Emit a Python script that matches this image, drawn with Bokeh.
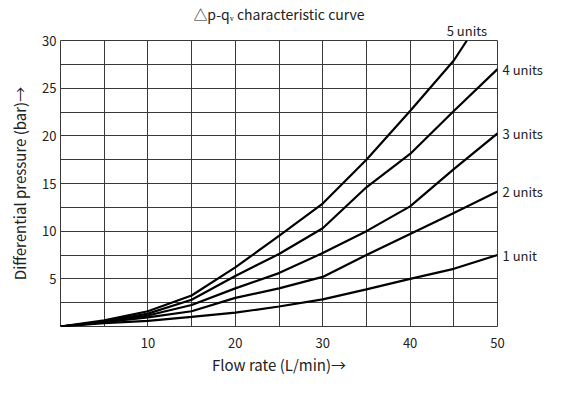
from bokeh.plotting import figure
from bokeh.models import Range1d, FixedTicker, LinearAxis
from bokeh.embed import file_html
from bokeh.resources import INLINE

# ---- data ----
flow = [0, 5, 10, 15, 20, 25, 30, 35, 40, 45, 50]
dp_1unit = [0, 0.35, 0.6, 1.0, 1.45, 2.1, 2.85, 3.9, 5.0, 6.05, 7.5]
dp_2units = [0, 0.45, 0.95, 1.6, 3.0, 4.0, 5.2, 7.5, 9.7, 11.9, 14.15]
dp_3units = [0, 0.5, 1.15, 2.25, 4.0, 5.6, 7.7, 10.0, 12.6, 16.5, 20.25]
dp_4units = [0, 0.55, 1.35, 2.8, 5.3, 7.6, 10.3, 14.6, 18.1, 22.6, 27.0]
flow_5units = [0, 5, 10, 15, 20, 25, 30, 35, 40, 45, 46.5]
dp_5units = [0, 0.65, 1.6, 3.25, 6.2, 9.5, 12.9, 17.5, 22.6, 27.9, 30.0]

series_names = ["1 unit", "2 units", "3 units", "4 units", "5 units"]
series_x = [flow, flow, flow, flow, flow_5units]
series_y = [dp_1unit, dp_2units, dp_3units, dp_4units, dp_5units]

x_ticks = [10, 20, 30, 40, 50]
y_ticks = [5, 10, 15, 20, 25, 30]
x_grid = [5, 10, 15, 20, 25, 30, 35, 40, 45]
y_grid = [2.5, 5, 7.5, 10, 12.5, 15, 17.5, 20, 22.5, 25, 27.5]

title_text = "△p-qᵥ characteristic curve"
x_label = "Flow rate (L/min)→"
y_label = "Differential pressure (bar)→"

FONT = "Noto Sans CJK SC"
TXT = "#222222"
GRID = "#3a3a3a"

W, H = 545, 377
p = figure(width=W, height=H, output_backend="svg", toolbar_location=None,
           x_range=Range1d(0, 50), y_range=Range1d(0, 30),
           min_border_left=60, min_border_right=48,
           min_border_top=40, min_border_bottom=50)
p.title.text = ""
p.title.visible = False
p.background_fill_color = "white"
p.border_fill_color = "white"
p.outline_line_color = GRID
p.outline_line_width = 1

bottom_axis = p.below[0]
left_axis = p.left[0]
bottom_axis.ticker = FixedTicker(ticks=x_ticks)
left_axis.ticker = FixedTicker(ticks=y_ticks)
p.xgrid.ticker = FixedTicker(ticks=x_grid)
p.ygrid.ticker = FixedTicker(ticks=y_grid)
for g in (p.xgrid, p.ygrid):
    g.grid_line_color = GRID
    g.grid_line_width = 1
    g.grid_line_alpha = 1.0

# curve-end labels as label-only axes (right side and above); title on top axis
right_vals = [ys[-1] for ys in series_y if ys[-1] < 30]
right_names = [n for ys, n in zip(series_y, series_names) if ys[-1] < 30]
top_vals = [xs[-1] for xs, ys in zip(series_x, series_y) if ys[-1] >= 30]
top_names = [n for ys, n in zip(series_y, series_names) if ys[-1] >= 30]

right_axis = LinearAxis(ticker=FixedTicker(ticks=right_vals),
                        major_label_overrides=dict(zip(right_vals, right_names)))
top_axis = LinearAxis(ticker=FixedTicker(ticks=top_vals),
                      major_label_overrides=dict(zip(top_vals, top_names)))
p.add_layout(right_axis, "right")
p.add_layout(top_axis, "above")

for ax in (bottom_axis, left_axis, right_axis, top_axis):
    ax.axis_line_color = None
    ax.major_tick_line_color = None
    ax.minor_tick_line_color = None
    ax.major_tick_out = 0
    ax.major_tick_in = 0
    ax.major_label_text_font = FONT
    ax.major_label_text_font_size = "13px"
    ax.major_label_text_color = TXT
    ax.axis_label_text_font = FONT
    ax.axis_label_text_font_size = "15px"
    ax.axis_label_text_font_style = "normal"
    ax.axis_label_text_color = TXT

bottom_axis.axis_label = x_label
left_axis.axis_label = y_label
top_axis.axis_label = title_text
top_axis.axis_label_text_font_size = "14px"
top_axis.major_label_text_align = "left"

bottom_axis.major_label_standoff = 11
bottom_axis.axis_label_standoff = 3
left_axis.major_label_standoff = 4
left_axis.axis_label_standoff = 9
right_axis.major_label_standoff = 5
top_axis.major_label_standoff = 1
top_axis.axis_label_standoff = -6

for xs, ys in zip(series_x, series_y):
    p.line(xs, ys, line_color="black", line_width=2.2)

open("out.html", "w").write(file_html(p, INLINE))
